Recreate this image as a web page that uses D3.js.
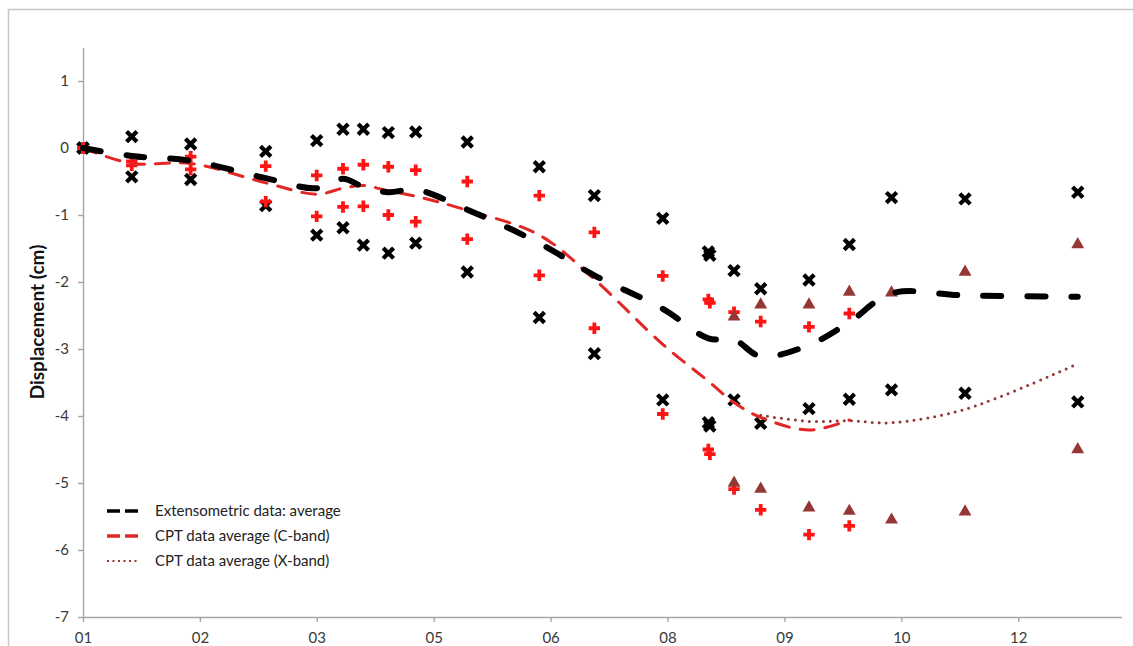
<!DOCTYPE html>
<html>
<head>
<meta charset="utf-8">
<script src="https://cdn.jsdelivr.net/npm/d3@7/dist/d3.min.js"></script>
<style>
  html, body { margin: 0; padding: 0; background: #fff; }
  svg { display: block; }
  text { font-family: Lato, "Open Sans", sans-serif; }
</style>
</head>
<body>
<svg id="chart" width="1133" height="646"></svg>
<script>
// ---------- DATA ----------
const xTickLabels = ["01", "02", "03", "05", "06", "08", "09", "10", "12"];
const yTickValues = [1, 0, -1, -2, -3, -4, -5, -6, -7];
const yTickLabels = ["1", "0", "-1", "-2", "-3", "-4", "-5", "-6", "-7"];

// acquisition positions along the time axis (in tick units)
const epochs = [0, 0.417, 0.921, 1.563, 1.999, 2.224, 2.398, 2.612, 2.846, 3.287,
                3.903, 4.374, 4.959, 5.349, 5.569, 5.797, 6.210, 6.555, 6.916, 7.545, 8.509];

// Extensometric data (black crosses): upper and lower values per epoch
const extUpper = [0, 0.17, 0.06, -0.05, 0.11, 0.28, 0.28, 0.23, 0.24, 0.09,
                  -0.28, -0.71, -1.05, -1.55, -1.83, -2.10, -1.97, -1.44, -0.74, -0.76, -0.66];
const extLower = [0, -0.43, -0.47, -0.86, -1.30, -1.19, -1.45, -1.57, -1.42, -1.85,
                  -2.53, -3.07, -3.76, -4.10, -3.76, -4.11, -3.89, -3.75, -3.61, -3.66, -3.79];
const extExtraX = [5.362, 5.362];
const extExtraY = [-1.60, -4.15];

// CPT C-band (red plus) upper / lower values, first 18 epochs
const cUpper = [0, -0.20, -0.13, -0.27, -0.41, -0.31, -0.25, -0.28, -0.33, -0.50,
                -0.71, -1.26, -1.91, -2.26, -2.45, -2.59, -2.67, -2.47];
const cLower = [0, -0.26, -0.32, -0.80, -1.02, -0.88, -0.87, -1.00, -1.10, -1.36,
                -1.90, -2.69, -3.97, -4.50, -5.09, -5.40, -5.77, -5.64];
const cExtraX = [5.362, 5.362];
const cExtraY = [-2.31, -4.57];

// CPT X-band (triangles)
const xbEpochs = [5.569, 5.797, 6.210, 6.555, 6.916, 7.545, 8.509];
const xbUpper = [-2.52, -2.34, -2.34, -2.15, -2.16, -1.85, -1.44];
const xbLower = [-5.00, -5.09, -5.37, -5.42, -5.55, -5.43, -4.50];

// Average lines
const extAvg = [0, -0.12, -0.19, -0.45, -0.60, -0.46, -0.58, -0.66, -0.62, -0.92,
                -1.42, -1.90, -2.40, -2.84, -2.86, -3.11, -2.94, -2.60, -2.17, -2.20, -2.22];
const cAvg = [0, -0.23, -0.23, -0.52, -0.69, -0.60, -0.56, -0.64, -0.72, -0.93,
              -1.30, -1.96, -2.93, -3.48, -3.80, -4.02, -4.21, -4.06];
const xbAvgEpochs = [5.797, 6.210, 6.555, 6.916, 7.545, 8.509];
const xbAvg = [-3.99, -4.08, -4.07, -4.10, -3.90, -3.22];

const legendLabels = ["Extensometric data: average", "CPT data average (C-band)", "CPT data average (X-band)"];

// ---------- LAYOUT ----------
const svg = d3.select("#chart");
const x = d3.scaleLinear().domain([0, 8.885]).range([83, 1121.7]);
const y = d3.scaleLinear().domain([-7, 1.5]).range([617, 47.5]);

const axisColor = "#a6a6a6";
const black = "#000000";
const red = "#e32626";
const plusRed = "#ff1414";
const brown = "#953735";

// outer frame
svg.append("rect").attr("x", 8.5).attr("y", 9.5).attr("width", 1300).attr("height", 800)
  .attr("fill", "none").attr("stroke", "#c8c8c8").attr("stroke-width", 1.5);

// axes
const yAxis = d3.axisLeft(y).tickValues(yTickValues)
  .tickFormat((d, i) => yTickLabels[i]).tickSize(5).tickSizeOuter(0).tickPadding(9);
const gy = svg.append("g").attr("transform", `translate(${x(0)},0)`).call(yAxis);

const xAxis = d3.axisBottom(x).tickValues(d3.range(xTickLabels.length))
  .tickFormat((d, i) => xTickLabels[i]).tickSize(5).tickSizeOuter(0).tickPadding(10);
const gx = svg.append("g").attr("transform", `translate(0,${y(-7)})`).call(xAxis);

[gx, gy].forEach(g => {
  g.select(".domain").attr("stroke", axisColor).attr("stroke-width", 1.4);
  g.selectAll(".tick line").attr("stroke", axisColor).attr("stroke-width", 1.4);
  g.selectAll(".tick text").attr("fill", "#3a3a3a").style("font-size", "15px")
    .style("font-family", "Lato, 'Open Sans', sans-serif");
});

// y title
svg.append("text")
  .attr("transform", `translate(44,322) rotate(-90)`)
  .attr("text-anchor", "middle")
  .style("font-size", "19px").style("font-weight", "bold").attr("fill", "#111")
  .text("Displacement (cm)");

// ---------- MARKERS ----------
const extPts = epochs.flatMap((e, i) => [[e, extUpper[i]], [e, extLower[i]]])
  .concat(extExtraX.map((e, i) => [e, extExtraY[i]]));
const cPts = cUpper.flatMap((v, i) => [[epochs[i], v], [epochs[i], cLower[i]]])
  .concat(cExtraX.map((e, i) => [e, cExtraY[i]]));
const xbPts = xbEpochs.flatMap((e, i) => [[e, xbUpper[i]], [e, xbLower[i]]]);

const s = 5.2;
svg.append("g").selectAll("path").data(extPts).join("path")
  .attr("d", d => {
    const cx = x(d[0]), cy = y(d[1]);
    return `M${cx - s},${cy - s}L${cx + s},${cy + s}M${cx - s},${cy + s}L${cx + s},${cy - s}`;
  })
  .attr("stroke", black).attr("stroke-width", 4.2).attr("fill", "none");

svg.append("g").selectAll("path").data(cPts).join("path")
  .attr("transform", d => `translate(${x(d[0])},${y(d[1])})`)
  .attr("d", d3.symbol(d3.symbolCross, 72)())
  .attr("fill", plusRed);

svg.append("g").selectAll("path").data(xbPts).join("path")
  .attr("transform", d => `translate(${x(d[0])},${y(d[1])})`)
  .attr("d", d3.symbol(d3.symbolTriangle, 72)())
  .attr("fill", brown);

// ---------- LINES ----------
const line = d3.line().x(d => x(d[0])).y(d => y(d[1])).curve(d3.curveCatmullRom.alpha(0.5));

svg.append("path").datum(cAvg.map((v, i) => [epochs[i], v]))
  .attr("d", line).attr("fill", "none").attr("stroke", red)
  .attr("stroke-width", 3).attr("stroke-dasharray", "14,11").attr("stroke-linecap", "round");

svg.append("path").datum(extAvg.map((v, i) => [epochs[i], v]))
  .attr("d", line).attr("fill", "none").attr("stroke", black)
  .attr("stroke-width", 6).attr("stroke-dasharray", "18,26").attr("stroke-linecap", "round");

svg.append("path").datum(xbAvg.map((v, i) => [xbAvgEpochs[i], v]))
  .attr("d", line).attr("fill", "none").attr("stroke", brown)
  .attr("stroke-width", 3).attr("stroke-dasharray", "0,7").attr("stroke-linecap", "round");

// ---------- LEGEND ----------
const legY = [511, 536, 561];
const legStyles = [
  { c: black, w: 3.4, dash: "13,5" },
  { c: red, w: 3.4, dash: "13,5" },
  { c: brown, w: 2, dash: "2,3.5" }
];
const leg = svg.append("g");
legendLabels.forEach((t, i) => {
  leg.append("line").attr("x1", 107).attr("x2", 138).attr("y1", legY[i]).attr("y2", legY[i])
    .attr("stroke", legStyles[i].c).attr("stroke-width", legStyles[i].w)
    .attr("stroke-dasharray", legStyles[i].dash);
  leg.append("text").attr("x", 155).attr("y", legY[i]).attr("dy", "0.35em")
    .style("font-size", "15px").attr("fill", "#222").text(t);
});
</script>
</body>
</html>
